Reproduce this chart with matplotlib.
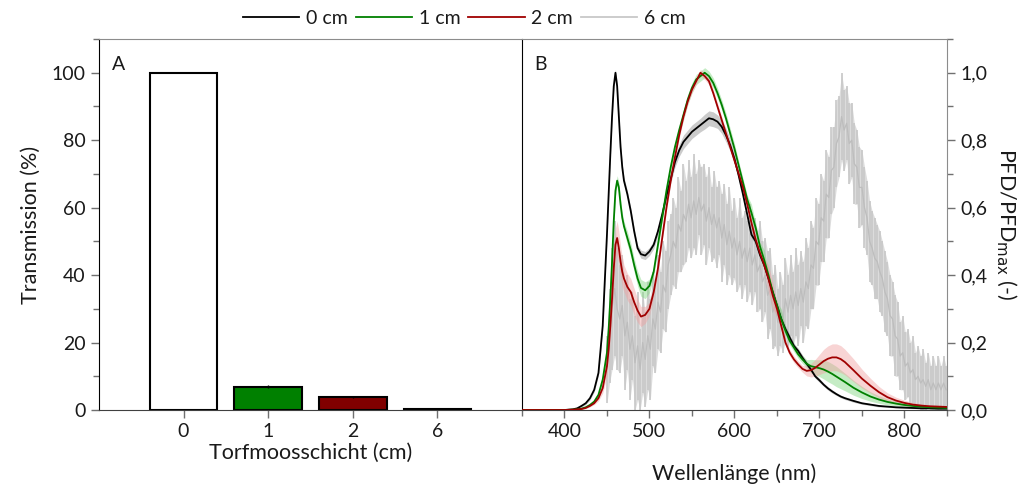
import matplotlib.pyplot as plt
import numpy as np
from matplotlib.ticker import MultipleLocator, FuncFormatter
from matplotlib.lines import Line2D

plt.rcParams['font.family'] = ['Lato', 'DejaVu Sans']

# --- A: Transmission je Schichtdicke ---
layers = ['0', '1', '2', '6']
transmission = [100, 6.9, 3.9, 0.2]
transmission_err = [0, 0.4, 0.2, 0.05]
bar_colors = ['white', '#008000', '#800000', '#d0d0d0']

# --- B: normierte Spektren ---
wl = [350, 400, 410, 415, 420, 425, 430, 435, 440, 445,
      450, 452, 454, 456, 458, 460, 462, 464, 466, 468, 470,
      474, 478, 482, 486,
      490, 495, 500, 505, 510, 515, 520, 525, 530, 535,
      540, 545, 550, 555, 560, 565, 570, 575, 580, 585,
      590, 595, 600, 605, 610, 615, 620, 625, 630, 635,
      640, 645, 650, 655, 660, 665, 670, 675, 680, 685,
      690, 695, 700, 705, 710, 715, 720, 725, 730,
      740, 750, 760, 770, 780, 790, 800, 810, 820, 830, 840, 850]

pfd_0 = [0.0, 0.0, 0.002, 0.005, 0.012, 0.02, 0.035, 0.06, 0.11, 0.25,
         0.52, 0.64, 0.76, 0.87, 0.96, 1.0, 0.96, 0.87, 0.78, 0.72, 0.68,
         0.64, 0.59, 0.53, 0.48,
         0.462, 0.458, 0.47, 0.49, 0.53, 0.58, 0.635, 0.685, 0.735, 0.77,
         0.795, 0.81, 0.825, 0.835, 0.845, 0.855, 0.865, 0.862, 0.855, 0.84,
         0.815, 0.785, 0.745, 0.695, 0.64, 0.58, 0.52, 0.5, 0.46, 0.43,
         0.39, 0.35, 0.31, 0.27, 0.24, 0.215, 0.19, 0.175, 0.155, 0.137,
         0.12, 0.1, 0.088, 0.075, 0.064, 0.055, 0.047, 0.04, 0.035,
         0.027, 0.02, 0.016, 0.012, 0.01, 0.008, 0.007, 0.006, 0.005, 0.005, 0.004, 0.004]
sd_0 = [0.0, 0.0, 0.001, 0.002, 0.003, 0.004, 0.005, 0.006, 0.008, 0.01,
        0.01, 0.01, 0.01, 0.01, 0.01, 0.01, 0.01, 0.01, 0.01, 0.01, 0.01,
        0.01, 0.01, 0.01, 0.01,
        0.012, 0.012, 0.012, 0.012, 0.012, 0.012, 0.012, 0.012, 0.015, 0.018,
        0.02, 0.02, 0.02, 0.02, 0.02, 0.022, 0.022, 0.022, 0.02, 0.02,
        0.02, 0.018, 0.015, 0.012, 0.01, 0.01, 0.01, 0.01, 0.01, 0.01,
        0.01, 0.01, 0.01, 0.01, 0.01, 0.008, 0.008, 0.008, 0.008, 0.008,
        0.006, 0.006, 0.006, 0.005, 0.005, 0.005, 0.004, 0.004, 0.004,
        0.004, 0.003, 0.003, 0.003, 0.002, 0.002, 0.002, 0.002, 0.002, 0.002, 0.002, 0.002]

pfd_1 = [0.0, 0.0, 0.001, 0.002, 0.004, 0.008, 0.015, 0.025, 0.045, 0.09,
         0.17, 0.24, 0.33, 0.44, 0.56, 0.65, 0.68, 0.66, 0.61, 0.57, 0.545,
         0.51, 0.475, 0.43, 0.39,
         0.362, 0.355, 0.368, 0.41, 0.49, 0.57, 0.65, 0.72, 0.78, 0.83,
         0.875, 0.92, 0.955, 0.98, 0.99, 1.0, 0.99, 0.97, 0.94, 0.905,
         0.865, 0.82, 0.775, 0.725, 0.675, 0.625, 0.585, 0.54, 0.485, 0.445,
         0.4, 0.35, 0.31, 0.27, 0.235, 0.205, 0.185, 0.165, 0.15, 0.137,
         0.13, 0.127, 0.124, 0.12, 0.114, 0.107, 0.099, 0.091, 0.083,
         0.066, 0.052, 0.04, 0.031, 0.024, 0.019, 0.015, 0.012, 0.01, 0.008, 0.007, 0.006]
sd_1 = [0.0, 0.0, 0.001, 0.001, 0.002, 0.002, 0.003, 0.004, 0.006, 0.01,
        0.015, 0.015, 0.015, 0.015, 0.015, 0.015, 0.015, 0.015, 0.015, 0.015, 0.015,
        0.02, 0.02, 0.02, 0.022,
        0.025, 0.025, 0.02, 0.015, 0.012, 0.012, 0.012, 0.012, 0.012, 0.012,
        0.015, 0.015, 0.015, 0.015, 0.015, 0.015, 0.015, 0.015, 0.015, 0.015,
        0.015, 0.015, 0.015, 0.012, 0.012, 0.012, 0.025, 0.012, 0.012, 0.03,
        0.012, 0.012, 0.012, 0.03, 0.012, 0.012, 0.012, 0.012, 0.012, 0.012,
        0.02, 0.022, 0.025, 0.028, 0.03, 0.03, 0.03, 0.028, 0.026,
        0.022, 0.018, 0.014, 0.011, 0.009, 0.007, 0.006, 0.005, 0.004, 0.004, 0.003, 0.003]

pfd_2 = [0.0, 0.0, 0.001, 0.002, 0.003, 0.006, 0.012, 0.02, 0.035, 0.065,
         0.13, 0.18, 0.25, 0.33, 0.42, 0.49, 0.51, 0.48, 0.44, 0.41, 0.39,
         0.365, 0.35, 0.32, 0.295,
         0.277, 0.282, 0.3, 0.35, 0.42, 0.51, 0.6, 0.68, 0.75, 0.815,
         0.87, 0.915, 0.95, 0.975, 1.0, 0.99, 0.975, 0.94, 0.9, 0.86,
         0.82, 0.78, 0.74, 0.7, 0.66, 0.61, 0.555, 0.505, 0.465, 0.43,
         0.39, 0.34, 0.3, 0.25, 0.2, 0.17, 0.15, 0.135, 0.122, 0.116,
         0.118, 0.125, 0.135, 0.145, 0.152, 0.156, 0.156, 0.151, 0.142,
         0.118, 0.093, 0.072, 0.053, 0.038, 0.028, 0.021, 0.016, 0.013, 0.011, 0.01, 0.009]
sd_2 = [0.0, 0.0, 0.001, 0.001, 0.002, 0.002, 0.003, 0.004, 0.008, 0.015,
        0.03, 0.035, 0.04, 0.045, 0.05, 0.05, 0.05, 0.05, 0.045, 0.045, 0.04,
        0.04, 0.04, 0.04, 0.035,
        0.03, 0.025, 0.02, 0.015, 0.01, 0.01, 0.01, 0.01, 0.01, 0.01,
        0.01, 0.01, 0.01, 0.01, 0.01, 0.01, 0.01, 0.01, 0.01, 0.01,
        0.01, 0.01, 0.01, 0.01, 0.01, 0.01, 0.01, 0.01, 0.01, 0.02,
        0.04, 0.04, 0.02, 0.01, 0.01, 0.01, 0.01, 0.01, 0.01, 0.015,
        0.02, 0.025, 0.03, 0.035, 0.038, 0.04, 0.04, 0.04, 0.038,
        0.034, 0.028, 0.022, 0.017, 0.013, 0.01, 0.008, 0.006, 0.005, 0.004, 0.004, 0.003]

# 6 cm: verrauschtes Spektrum mit Fehlerbalken
wl_6 = list(range(450, 850, 3))
pfd_6 = [0.12, 0.22, 0.30, 0.36, 0.30, 0.27, 0.31, 0.22, 0.26, 0.18,
         0.22, 0.14, 0.19, 0.12, 0.20, 0.15, 0.22, 0.18, 0.27, 0.24,
         0.32, 0.29, 0.37, 0.35, 0.43, 0.46, 0.50, 0.48, 0.55, 0.53,
         0.58, 0.56, 0.61, 0.57, 0.62, 0.58, 0.63, 0.59, 0.61, 0.56,
         0.60, 0.55, 0.58, 0.54, 0.57, 0.51, 0.55, 0.49, 0.53, 0.48,
         0.51, 0.46, 0.50, 0.45, 0.48, 0.44, 0.48, 0.43, 0.46, 0.41,
         0.43, 0.38, 0.40, 0.34, 0.36, 0.29, 0.31, 0.26, 0.30, 0.27,
         0.33, 0.29, 0.34, 0.30, 0.35, 0.31, 0.36, 0.32, 0.38, 0.36,
         0.43, 0.42, 0.50, 0.49, 0.57, 0.56, 0.64, 0.63, 0.71, 0.72,
         0.79, 0.81, 0.87, 0.83, 0.85, 0.79, 0.80, 0.73, 0.72, 0.66,
         0.66, 0.60, 0.57, 0.50, 0.48, 0.45, 0.44, 0.41, 0.39, 0.35,
         0.33, 0.28, 0.27, 0.22, 0.21, 0.16, 0.17, 0.13, 0.14, 0.11,
         0.12, 0.09, 0.10, 0.08, 0.09, 0.07, 0.09, 0.06, 0.08, 0.06,
         0.08, 0.06, 0.08, 0.06]
sd_6 = [0.10, 0.14, 0.18, 0.20, 0.18, 0.16, 0.15, 0.16, 0.14, 0.15,
        0.13, 0.14, 0.16, 0.12, 0.15, 0.14, 0.16, 0.15, 0.14, 0.13,
        0.14, 0.12, 0.13, 0.12, 0.13, 0.12, 0.13, 0.12, 0.14, 0.12,
        0.15, 0.12, 0.13, 0.12, 0.14, 0.12, 0.11, 0.13, 0.12, 0.13,
        0.12, 0.11, 0.13, 0.12, 0.11, 0.13, 0.12, 0.12, 0.13, 0.11,
        0.12, 0.11, 0.13, 0.12, 0.11, 0.12, 0.13, 0.12, 0.11, 0.12,
        0.13, 0.12, 0.11, 0.13, 0.12, 0.11, 0.12, 0.10, 0.11, 0.10,
        0.12, 0.11, 0.12, 0.11, 0.13, 0.12, 0.11, 0.12, 0.13, 0.12,
        0.13, 0.12, 0.13, 0.12, 0.13, 0.12, 0.13, 0.12, 0.13, 0.12,
        0.13, 0.12, 0.13, 0.12, 0.11, 0.12, 0.11, 0.12, 0.11, 0.12,
        0.11, 0.12, 0.11, 0.12, 0.11, 0.12, 0.11, 0.12, 0.11, 0.12,
        0.11, 0.12, 0.11, 0.12, 0.11, 0.10, 0.11, 0.10, 0.10, 0.09,
        0.10, 0.08, 0.09, 0.08, 0.09, 0.07, 0.08, 0.07, 0.08, 0.07,
        0.08, 0.07, 0.08, 0.07]

series = [
    ('0 cm', pfd_0, sd_0, 'black', '#8c8c8c'),
    ('1 cm', pfd_1, sd_1, '#008000', '#7fd67f'),
    ('2 cm', pfd_2, sd_2, '#a00000', '#f0a0a0'),
]
grey6 = '#c8c8c8'
spine_grey = '#8c8c8c'
txt = '#1a1a1a'

fig = plt.figure(figsize=(10.34, 4.84), dpi=100)
ax_a = fig.add_axes([0.0957, 0.1529, 0.4091, 0.7665])
ax_b = fig.add_axes([0.5048, 0.1529, 0.4110, 0.7665])

# A: Balken
x = np.arange(len(layers))
ax_a.bar(x, transmission, width=0.8, color=bar_colors, edgecolor='black', linewidth=1.5,
         yerr=transmission_err, error_kw=dict(ecolor='black', elinewidth=1, capsize=0))
ax_a.set_xlim(-1, 4)
ax_a.set_ylim(0, 110)
ax_a.set_xticks(x)
ax_a.set_xticklabels(layers)
ax_a.xaxis.set_minor_locator(MultipleLocator(5))
ax_a.yaxis.set_major_locator(MultipleLocator(20))
ax_a.yaxis.set_minor_locator(MultipleLocator(10))
ax_a.set_ylabel('Transmission (%)', fontsize=15.5, color=txt, labelpad=8)
ax_a.set_xlabel('Torfmoosschicht (cm)', fontsize=15.5, color=txt, labelpad=2)
ax_a.text(0.03, 0.955, 'A', transform=ax_a.transAxes, fontsize=14, color=txt, va='top')
ax_a.spines['top'].set_color(spine_grey)
ax_a.spines['right'].set_visible(False)

# B: Spektren
lo6 = np.array(pfd_6) - np.array(sd_6)
hi6 = np.array(pfd_6) + np.array(sd_6)
ax_b.fill_between(wl_6, lo6, hi6, color='#dcdcdc', linewidth=0, zorder=1)
ax_b.vlines(wl_6, lo6, hi6, color=grey6, linewidth=1.2, zorder=1)
ax_b.plot(wl_6, pfd_6, color='#bdbdbd', linewidth=0.9, zorder=1)
for label, y, sd, c, band in series:
    y = np.array(y)
    sd = np.array(sd)
    ax_b.fill_between(wl, y - sd, y + sd, color=band, alpha=0.45, linewidth=0, zorder=2)
for label, y, sd, c, band in series:
    ax_b.plot(wl, y, color=c, linewidth=1.3, zorder=3)

ax_b.set_xlim(350, 850)
ax_b.set_ylim(0, 1.1)
ax_b.xaxis.set_major_locator(MultipleLocator(100))
ax_b.xaxis.set_minor_locator(MultipleLocator(50))
ax_b.yaxis.set_major_locator(MultipleLocator(0.2))
ax_b.yaxis.set_minor_locator(MultipleLocator(0.1))
ax_b.yaxis.set_major_formatter(FuncFormatter(lambda v, p: f'{v:.1f}'.replace('.', ',')))
ax_b.yaxis.tick_right()
ax_b.yaxis.set_label_position('right')
ax_b.set_ylabel('PFD/PFD$_{\\mathrm{max}}$ (-)', fontsize=15.5, color=txt, rotation=270, labelpad=22)
ax_b.set_xlabel('Wellenlänge (nm)', fontsize=15.5, color=txt, labelpad=17)
ax_b.text(0.03, 0.955, 'B', transform=ax_b.transAxes, fontsize=14, color=txt, va='top')
ax_b.spines['top'].set_color(spine_grey)
ax_b.spines['right'].set_color(spine_grey)

for ax in (ax_a, ax_b):
    ax.tick_params(which='major', direction='out', length=6, width=1, color='#707070',
                   labelsize=14, labelcolor=txt)
    ax.tick_params(which='minor', direction='out', length=4, width=1, color='#707070')
    ax.spines['left'].set_color('black')
    ax.spines['bottom'].set_color('#404040')

handles = [Line2D([], [], color=c, linewidth=1.3) for _, _, _, c, _ in series]
handles.append(Line2D([], [], color=grey6, linewidth=1.3))
labels = [s[0] for s in series] + ['6 cm']
fig.legend(handles, labels, loc='center', bbox_to_anchor=(0.449, 0.962), ncol=4,
           frameon=False, fontsize=14, handlelength=2.9, handletextpad=0.35,
           columnspacing=0.4, labelcolor=txt)

fig.savefig('out.png', dpi=100)
